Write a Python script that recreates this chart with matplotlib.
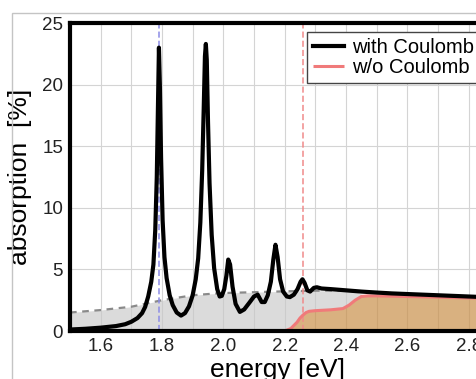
import matplotlib
matplotlib.use("Agg")
import matplotlib.pyplot as plt
from matplotlib.patches import Rectangle

plt.rcParams['font.family'] = ['Liberation Sans', 'DejaVu Sans']

# absorption with Coulomb interaction
energy = [1.50, 1.55, 1.60, 1.65, 1.68, 1.70, 1.72, 1.735, 1.745, 1.755, 1.765, 1.772,
          1.778, 1.783, 1.787, 1.790, 1.793, 1.797, 1.802, 1.808, 1.815, 1.825, 1.835,
          1.848, 1.862, 1.875, 1.888, 1.900, 1.910, 1.918, 1.925, 1.931, 1.936, 1.940,
          1.943, 1.946, 1.950, 1.955, 1.962, 1.970, 1.980, 1.988, 1.995, 2.003, 2.010,
          2.016, 2.022, 2.030, 2.040, 2.054, 2.068, 2.085, 2.100, 2.112, 2.125, 2.135,
          2.145, 2.155, 2.163, 2.170, 2.177, 2.185, 2.195, 2.207, 2.217, 2.230, 2.242,
          2.252, 2.258, 2.265, 2.274, 2.283, 2.295, 2.305, 2.32, 2.35, 2.40, 2.45, 2.50,
          2.55, 2.60, 2.65, 2.70, 2.75, 2.80, 2.85]
with_coulomb = [0.12, 0.18, 0.27, 0.40, 0.55, 0.75, 1.05, 1.45, 1.95, 2.8, 4.0, 5.4,
                8.2, 12.5, 18.5, 23.0, 20.0, 14.0, 9.0, 6.0, 4.3, 2.9, 2.1,
                1.5, 1.25, 1.45, 2.0, 2.9, 4.2, 5.9, 8.8, 13.0, 18.0, 22.3,
                23.3, 22.0, 17.0, 12.0, 7.8, 5.1, 3.4, 2.8, 2.85, 3.4, 4.5,
                5.8, 5.4, 3.6, 2.2, 1.55, 1.75, 2.3, 2.8, 2.95, 2.35, 2.35,
                2.9, 4.0, 5.8, 7.0, 6.0, 4.2, 3.2, 2.8, 2.75, 2.95, 3.4,
                4.0, 4.2, 3.9, 3.3, 3.2, 3.5, 3.55, 3.45, 3.4, 3.3, 3.2, 3.12,
                3.05, 3.0, 2.95, 2.9, 2.85, 2.8, 2.75]

# background curves on a common grid
energy_bg = [1.50, 1.60, 1.70, 1.80, 1.85, 1.90, 1.95, 2.00, 2.10, 2.20, 2.22, 2.24,
             2.25, 2.26, 2.27, 2.28, 2.30, 2.35, 2.39, 2.41, 2.43, 2.45, 2.47, 2.50,
             2.60, 2.70, 2.80, 2.85]
free_carrier = [1.50, 1.70, 1.97, 2.50, 2.70, 2.90, 3.00, 3.08, 3.15, 3.22, 3.23, 3.24,
                3.25, 3.25, 3.26, 3.26, 3.27, 3.27, 3.27, 3.25, 3.20, 3.00, 2.85, 2.85,
                2.80, 2.75, 2.68, 2.65]
without_coulomb = [0, 0, 0, 0, 0, 0, 0, 0, 0, 0, 0.2, 0.7,
                   1.05, 1.3, 1.5, 1.6, 1.65, 1.72, 1.82, 2.1, 2.5, 2.8, 2.85, 2.85,
                   2.80, 2.75, 2.68, 2.65]

exciton_line = 1.79
gap_line = 2.26
x_major = [1.6, 1.8, 2.0, 2.2, 2.4, 2.6, 2.8]
x_minor = [1.5, 1.7, 1.9, 2.1, 2.3, 2.5, 2.7]
y_major = [0, 5, 10, 15, 20, 25]

fig = plt.figure(figsize=(4.76, 3.79), dpi=100)
ax = fig.add_axes([70/476, 1-331/379, (484-70)/476, (331-23)/379])

# outer light frame
fig.add_artist(Rectangle((12/476, -0.2), 1.3, 1.2 - 13/379,
                         transform=fig.transFigure, fill=False,
                         ec='#c4c4c4', lw=1.0))

ax.fill_between(energy_bg, without_coulomb, free_carrier, color='#c8c8c8',
                alpha=0.65, lw=0, zorder=1)
ax.fill_between(energy_bg, 0, without_coulomb, color='#c9904a', alpha=0.7,
                lw=0, zorder=1)
ax.plot(energy_bg[:22], free_carrier[:22], color='#8a8a8a', lw=1.6,
        ls=(0, (3, 2.5)), zorder=2)
ax.axvline(exciton_line, color='#8c8ce6', lw=1.1, ls=(0, (4, 2)), zorder=2)
ax.axvline(gap_line, color='#f08a8a', lw=1.1, ls=(0, (4, 2)), zorder=2)
ax.plot(energy_bg, without_coulomb, color='#f07a7a', lw=2.2, zorder=3,
        label='w/o Coulomb', solid_capstyle='butt')
ax.plot(energy, with_coulomb, color='black', lw=3.0, zorder=4,
        label='with Coulomb', solid_joinstyle='round')

ax.set_xlim(1.5, 2.85)
ax.set_ylim(0, 25)
ax.set_xticks(x_major)
ax.set_xticks(x_minor, minor=True)
ax.set_yticks(y_major)
ax.set_xticklabels(['%.1f' % v for v in x_major])
ax.grid(True, which='both', axis='x', color='#d4d4d4', lw=0.8)
ax.grid(True, which='major', axis='y', color='#d4d4d4', lw=0.8)
ax.set_axisbelow(True)
ax.tick_params(which='both', length=0, labelsize=13.5, pad=5, colors='#222222')

for s in ax.spines.values():
    s.set_linewidth(3.0)
    s.set_zorder(5)

ax.set_xlabel('energy [eV]', fontsize=19, labelpad=2)
ax.set_ylabel('absorption  [%]', fontsize=19, labelpad=7)

handles, labels = ax.get_legend_handles_labels()
leg = ax.legend(handles[::-1], labels[::-1], loc='upper left',
                bbox_to_anchor=(307/476, 1-32/379), bbox_transform=fig.transFigure,
                borderaxespad=0, fontsize=14.5, handlelength=1.55, handletextpad=0.4,
                labelspacing=0.05, borderpad=0.3, fancybox=False, framealpha=1,
                edgecolor='#444444')
leg.get_frame().set_linewidth(1.0)
leg.set_zorder(6)

fig.savefig('out.png', dpi=100)
